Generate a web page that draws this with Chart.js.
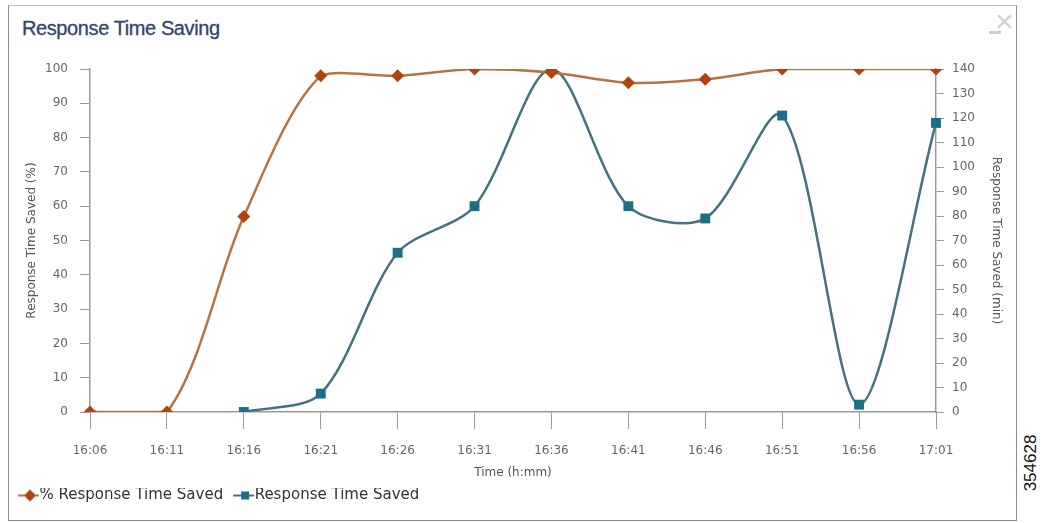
<!DOCTYPE html>
<html>
<head>
<meta charset="utf-8">
<script src="https://cdn.jsdelivr.net/npm/chart.js@4/dist/chart.umd.min.js"></script>
<style>
  html, body { margin: 0; padding: 0; background: #fff; }
  body { width: 1042px; height: 523px; position: relative; overflow: hidden; font-family: "Liberation Sans", Arial, sans-serif; }
  #frame { position: absolute; left: 8px; top: 5px; width: 1007px; height: 514px; border: 1px solid #8c8c8c; border-top-color: #bbb; }
  #title { position: absolute; left: 22px; top: 17px; font-size: 20px; color: #34446a; letter-spacing: -0.4px; -webkit-text-stroke: 0.3px #34446a; }
  #tools { position: absolute; left: 989px; top: 12px; height: 24px; width: 28px; }
  #tools .min { position: absolute; left: 0; top: 19px; width: 12px; height: 3px; background: #cfcfcf; }
  #tools .x { position: absolute; left: 6px; top: -9px; font-size: 32px; color: #d0d0d0; }
  #code { position: absolute; left: 1031px; top: 463px; transform: translate(-50%, -50%) rotate(-90deg); font-size: 17px; color: #111; white-space: nowrap; }
  #c { position: absolute; left: 0; top: 0; }
</style>
</head>
<body>
<div id="frame"></div>
<div id="title">Response Time Saving</div>
<div id="tools"><span class="min"></span><span class="x">×</span></div>
<div id="code">354628</div>
<canvas id="c" width="1042" height="523"></canvas>
<script>
const times = ['16:06', '16:11', '16:16', '16:21', '16:26', '16:31', '16:36', '16:41', '16:46', '16:51', '16:56', '17:01'];
const pctSaved = [0, 0, 57, 98, 98, 100, 99, 96, 97, 100, 100, 100];
const minSaved = [null, null, 0, 7.5, 65, 84, 140, 84, 79, 121, 3, 118];

const orangeLine = '#b8733f';
const orangeMark = '#b2430f';
const blueLine = '#44737f';
const blueMark = '#1c6f86';
const axisGrey = '#9a9a9a';
const tickFont = { family: 'DejaVu Sans', size: 12 };

// legend symbol: short line with the marker on it, drawn right of centre
function legendIcon(lineColor, markColor, shape) {
    const cv = document.createElement('canvas');
    cv.width = 48; cv.height = 14;
    const g = cv.getContext('2d');
    g.strokeStyle = lineColor;
    g.lineWidth = 2;
    g.beginPath(); g.moveTo(22, 7); g.lineTo(43, 7); g.stroke();
    g.fillStyle = markColor;
    g.beginPath();
    if (shape === 'diamond') {
        g.moveTo(34, 1); g.lineTo(40, 7); g.lineTo(34, 13); g.lineTo(28, 7);
    } else {
        g.rect(30, 3, 8, 8);
    }
    g.closePath(); g.fill();
    return cv;
}
const icons = [legendIcon(orangeLine, orangeMark, 'diamond'), legendIcon(blueLine, blueMark, 'square')];

const ctx = document.getElementById('c').getContext('2d');
new Chart(ctx, {
    type: 'line',
    data: {
        labels: times,
        datasets: [{
            label: '% Response Time Saved',
            data: pctSaved,
            yAxisID: 'yPct',
            borderColor: orangeLine,
            borderWidth: 2.5,
            backgroundColor: orangeMark,
            pointStyle: 'rectRot',
            pointRadius: 6.5,
            pointBorderWidth: 0,
            tension: 0.3
        }, {
            label: 'Response Time Saved',
            data: minSaved,
            yAxisID: 'yMin',
            borderColor: blueLine,
            borderWidth: 2.5,
            backgroundColor: blueMark,
            pointStyle: 'rect',
            pointRadius: 7,
            pointBorderWidth: 0,
            tension: 0.3,
            spanGaps: false
        }]
    },
    options: {
        responsive: false,
        animation: false,
        layout: { padding: { left: 8, right: 37, top: 69, bottom: 10 } },
        plugins: {
            tooltip: { enabled: false },
            legend: {
                position: 'bottom',
                align: 'start',
                labels: {
                    usePointStyle: true,
                    pointStyleWidth: 24,
                    padding: 0,
                    color: '#333',
                    font: { family: 'DejaVu Sans', size: 15 },
                    generateLabels: function(chart) {
                        const items = Chart.defaults.plugins.legend.labels.generateLabels(chart);
                        items.forEach((it, i) => { it.pointStyle = icons[i]; });
                        return items;
                    }
                }
            }
        },
        scales: {
            x: {
                offset: false,
                grid: { drawOnChartArea: false, drawTicks: true, tickLength: 17, color: axisGrey },
                border: { display: true, color: axisGrey, width: 1.5 },
                ticks: { color: '#666', font: tickFont, padding: 15, maxRotation: 0, autoSkip: false },
                title: { display: true, text: 'Time (h:mm)', color: '#555', font: tickFont, padding: { top: 2, bottom: 8 } },
                afterFit: function(scale) { scale.height = 76; }
            },
            yPct: {
                position: 'left',
                min: 0, max: 100,
                ticks: { stepSize: 10, color: '#666', font: tickFont, padding: 12 },
                grid: { drawOnChartArea: false, drawTicks: true, tickLength: 10, color: axisGrey },
                border: { display: true, color: axisGrey, width: 1.5 },
                title: { display: true, text: 'Response Time Saved (%)', color: '#555', font: tickFont, padding: { top: 17, bottom: 0 } },
                afterFit: function(scale) { scale.width = 82; }
            },
            yMin: {
                position: 'right',
                min: 0, max: 140,
                ticks: { stepSize: 10, color: '#666', font: tickFont, padding: 8 },
                grid: { drawOnChartArea: false, drawTicks: true, tickLength: 8, color: axisGrey },
                border: { display: true, color: axisGrey, width: 1.5 },
                title: { display: true, text: 'Response Time Saved (min)', color: '#555', font: tickFont, padding: { top: 2, bottom: 0 } },
                afterFit: function(scale) { scale.width = 69; }
            }
        }
    }
});
</script>
</body>
</html>
